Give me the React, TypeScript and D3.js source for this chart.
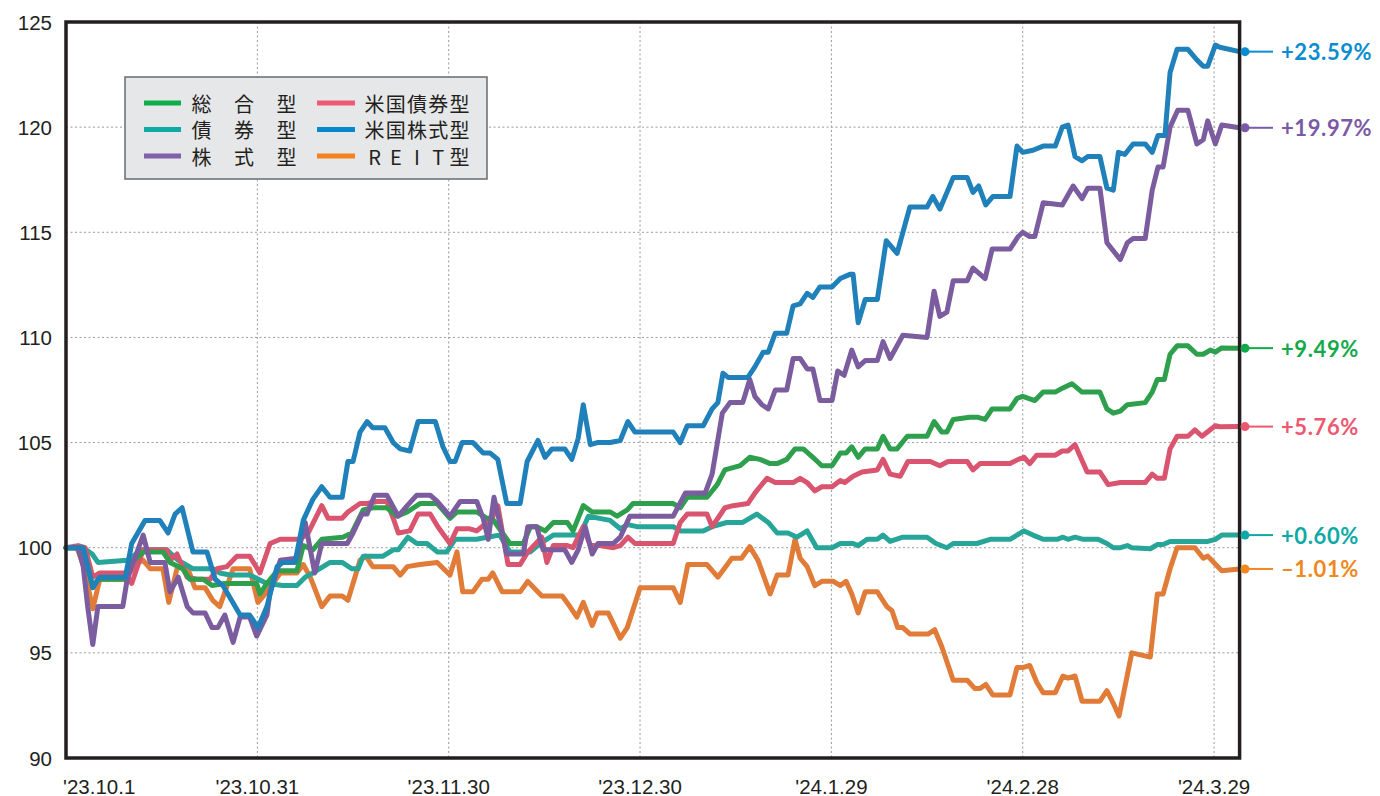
import React from "react";
import * as d3 from "d3";

// ---- data (day offset from 2023-10-01, index value) ----
const START_MS = Date.UTC(2023, 9, 1);
const END_DAY = 184;
const xTickDays = [0, 30, 60, 90, 120, 150, 180];
const xTickLabels = ["'23.10.1", "'23.10.31", "'23.11.30", "'23.12.30", "'24.1.29", "'24.2.28", "'24.3.29"];
const yTicks = [90, 95, 100, 105, 110, 115, 120, 125];

const sogo: [number, number][] = [
  [0,100],[2.7,100],[4.2,98.1],[5.0,98.5],[9.3,98.5],[10.3,99.3],[12.1,99.8],[15.2,99.8],[16.3,99.3],[18.3,99.0],[19.4,98.5],[21.5,98.5],[22.9,98.2],[24.9,98.3],[29.9,98.3],[30.4,97.8],[31.5,98.3],[33.1,98.9],[36.2,98.9],
  [37.2,100.1],[38.7,99.9],[40.1,100.4],[43.4,100.5],[44.8,100.7],[46.6,101.8],[48.1,101.9],[50.3,101.9],[51.9,101.5],[53.5,101.7],[55.5,102.1],[58.2,102.1],[60.2,101.4],[61.3,101.7],[64.4,101.7],[66.0,101.4],[66.8,101.4],
  [69.6,100.2],[71.7,100.2],[72.8,101.0],[73.8,101.0],[75.1,100.8],[76.4,101.2],[78.6,101.2],[79.5,100.8],[81.1,102.0],[82.5,101.7],[85.3,101.7],[86.4,101.5],[88.0,101.8],[88.9,102.1],[95.2,102.1],[96.3,101.9],[97.4,102.4],[100.5,102.4],
  [102.1,103.0],[103.3,103.7],[105.7,103.9],[107.2,104.3],[108.8,104.2],[110.4,104.0],[111.5,104.0],[113.0,104.2],[114.3,104.7],[115.6,104.7],[117.1,104.3],[118.5,103.9],[120.1,103.9],[121.4,104.5],[122.3,104.5],[123.2,104.8],[124.2,104.3],[125.3,104.7],[127.2,104.7],
  [128.1,105.3],[129.2,104.7],[130.3,104.7],[131.9,105.3],[135.0,105.3],[136.1,106.0],[137.3,105.5],[138.1,105.5],[139.1,106.1],[141.7,106.2],[143.0,106.2],[144.1,106.1],[145.2,106.6],[148.0,106.6],[149.1,107.1],[150.0,107.2],[151.9,107.0],[153.2,107.4],[155.1,107.4],
  [156.3,107.6],[157.7,107.8],[159.3,107.4],[162.1,107.4],[163.2,106.6],[164.2,106.4],[165.3,106.5],[166.4,106.8],[169.2,106.9],[170.3,107.4],[171.1,108.0],[172.2,108.0],[173.1,109.2],[174.2,109.6],[175.9,109.6],[177.3,109.2],[178.3,109.2],[179.4,109.4],[180.2,109.3],[181.2,109.5],[184,109.49],
];

const saiken: [number, number][] = [
  [0,100],[2.7,100],[4.1,99.7],[5.0,99.3],[9.6,99.4],[11.9,99.9],[15.8,99.9],[17.6,99.4],[19.9,99.0],[23.0,99.0],[24.1,98.8],[25.7,98.7],[28.8,98.7],[31.5,98.3],[34.0,98.2],[36.2,98.2],[37.5,98.6],[38.7,98.8],[41.4,99.3],[43.3,99.3],[44.8,99.0],[45.8,99.0],
  [46.6,99.6],[49.7,99.6],[51.3,99.9],[52.1,99.9],[53.6,100.5],[55.0,100.2],[56.6,100.2],[58.2,99.8],[59.7,99.8],[61.0,100.4],[64.4,100.4],[66.0,100.5],[68.0,100.6],[69.6,99.8],[72.8,99.8],[74.3,100.2],[76.4,100.6],[80.6,100.6],
  [81.9,101.5],[85.3,101.3],[86.9,100.9],[88.1,101.1],[89.5,101.0],[95.2,101.0],[96.3,100.8],[99.9,100.8],[101.3,101.0],[103.6,101.2],[106.1,101.2],[108.3,101.6],[110.1,101.2],[111.5,100.7],[113.2,100.7],[114.6,100.5],[116.2,100.8],[117.7,100.0],[120.1,100.0],
  [121.4,100.2],[123.4,100.2],[124.2,100.1],[125.6,100.4],[127.2,100.4],[128.1,100.6],[129.2,100.3],[131.2,100.5],[135.0,100.5],[136.4,100.2],[138.1,100.0],[139.1,100.2],[142.8,100.2],[144.9,100.4],[148.0,100.4],[149.1,100.6],[150.2,100.8],[151.6,100.6],[153.2,100.4],[155.4,100.4],
  [156.3,100.5],[157.1,100.4],[158.2,100.5],[159.5,100.4],[161.8,100.4],[163.2,100.2],[164.2,100.0],[165.3,100.0],[166.4,100.1],[167.1,100.0],[170.0,99.95],[171.1,100.15],[172.0,100.15],[173.1,100.3],[179.0,100.3],[180.2,100.4],[181.2,100.6],[184,100.6],
];

const kabushiki: [number, number][] = [
  [0,100],[1.9,100],[2.7,99.1],[3.4,97.2],[4.2,95.4],[5.0,97.2],[8.9,97.2],[9.6,98.5],[12.1,100.6],[13.2,99.3],[15.5,99.3],[16.3,97.9],[17.6,98.6],[19.0,97.2],[19.9,96.9],[21.8,96.9],[22.9,96.2],[23.8,96.2],[24.9,96.8],[26.2,95.5],[27.3,96.7],[28.8,96.7],[29.9,95.8],[31.5,96.8],[32.0,97.9],[33.6,99.4],
  [36.2,99.5],[37.5,101.2],[39.0,98.8],[40.1,100.2],[44.1,100.2],[45.0,100.7],[46.4,101.6],[47.2,101.6],[48.4,102.5],[50.3,102.5],[52.1,101.5],[53.5,102.0],[55.0,102.5],[57.1,102.5],[58.2,102.2],[60.2,101.5],[61.8,102.2],[64.4,102.2],[65.4,101.4],[66.2,100.4],[67.1,102.4],
  [69.1,99.7],[71.7,99.7],[72.4,101.0],[73.8,101.0],[74.8,99.9],[78.2,99.9],[79.3,99.3],[80.3,99.9],[81.4,101.0],[82.5,99.7],[83.4,100.2],[85.8,100.2],[86.9,100.5],[88.4,101.5],[95.2,101.5],[97.1,102.6],[100.2,102.6],[101.3,103.5],[102.9,106.4],[104.1,106.9],[106.1,106.9],
  [107.2,108.0],[108.0,107.2],[109.1,106.8],[110.1,106.6],[111.2,107.5],[113.0,107.5],[114.0,109.0],[115.1,109.0],[116.2,108.5],[117.1,108.5],[118.2,107.0],[120.1,107.0],[121.0,108.4],[122.0,108.2],[123.2,109.4],[124.2,108.6],[125.3,108.9],[127.2,108.9],[128.1,109.8],[129.2,109.0],
  [131.2,110.1],[135.0,110.0],[136.1,112.2],[137.0,111.0],[138.1,111.2],[139.1,112.7],[141.3,112.7],[142.2,113.3],[144.1,112.8],[145.2,114.2],[148.0,114.2],[149.3,114.8],[150.0,115.0],[151.1,114.8],[151.9,114.8],[153.2,116.4],[156.2,116.3],[157.9,117.2],[159.3,116.6],[160.2,117.1],[162.1,117.1],
  [163.2,114.5],[165.3,113.7],[166.4,114.5],[167.3,114.7],[169.2,114.7],[170.3,117.0],[171.2,118.1],[172.0,118.1],[173.1,120.0],[174.3,120.8],[175.9,120.8],[177.3,119.2],[178.3,119.4],[179.0,120.3],[180.2,119.2],[181.2,120.1],[184,119.97],
];

const beikokuSaiken: [number, number][] = [
  [0,100],[1.9,100.1],[3.0,100.0],[4.2,98.6],[5.3,98.8],[9.3,98.8],[10.3,98.3],[12.1,99.9],[15.8,99.9],[16.3,99.4],[17.4,99.7],[19.0,98.6],[20.5,98.5],[22.6,98.5],[23.7,99.0],[25.2,99.1],[26.8,99.6],[28.8,99.6],[30.4,98.8],[32.0,100.2],[33.6,100.4],[36.4,100.4],
  [37.8,100.6],[40.1,102.0],[41.1,101.4],[43.3,101.4],[44.2,101.7],[46.1,102.1],[47.2,102.1],[48.8,102.2],[50.3,102.2],[51.3,101.4],[52.1,100.7],[53.9,100.8],[55.2,101.6],[57.1,101.6],[58.3,101.0],[60.2,100.2],[61.3,100.9],[63.3,100.9],[64.4,100.8],[66.8,101.4],[67.7,102.0],
  [69.3,99.2],[71.2,99.2],[72.4,99.8],[74.6,100.5],[75.4,99.3],[76.4,100.1],[78.6,100.1],[79.5,100.0],[81.1,101.0],[82.2,100.1],[83.7,100.1],[85.8,100.0],[86.9,100.1],[88.1,100.5],[89.2,100.2],[95.2,100.2],[96.3,101.2],[97.4,101.6],[100.5,101.6],[101.3,101.0],[102.2,101.4],
  [103.3,101.9],[104.6,102.0],[106.9,102.1],[108.0,102.6],[109.9,103.3],[111.2,103.1],[114.0,103.1],[115.1,103.3],[116.2,103.1],[117.4,102.7],[118.5,102.9],[120.1,102.9],[121.4,103.2],[122.1,103.1],[123.4,103.4],[124.8,103.6],[127.2,103.7],[128.1,104.2],[129.2,103.5],[130.8,103.4],
  [132.0,104.1],[135.5,104.1],[137.0,103.9],[138.3,104.1],[141.3,104.1],[142.2,103.7],[143.3,104.0],[148.0,104.0],[149.3,104.2],[150.2,104.3],[151.1,104.0],[152.2,104.4],[155.1,104.4],[156.2,104.6],[157.1,104.6],[158.2,104.9],[160.1,103.6],[162.1,103.6],[163.4,103.0],[165.3,103.1],
  [169.2,103.1],[170.3,103.5],[171.1,103.3],[172.2,103.3],[173.1,104.7],[174.2,105.3],[175.9,105.3],[177.0,105.6],[178.1,105.3],[180.2,105.8],[180.9,105.75],[184,105.76],
];

const beikokuKabu: [number, number][] = [
  [0,100],[2.7,100],[4.2,98.1],[5.3,98.6],[9.3,98.6],[10.3,100.2],[12.4,101.3],[14.7,101.3],[16.0,100.7],[17.1,101.6],[18.2,101.9],[19.9,99.8],[22.1,99.8],[23.4,98.5],[24.6,98.2],[27.3,96.8],[28.8,96.8],[30.1,96.2],[31.5,97.2],[33.1,99.1],[34.0,99.3],[35.9,99.3],
  [37.2,101.3],[38.7,102.3],[40.1,102.9],[41.4,102.4],[43.3,102.4],[44.2,104.1],[45.0,104.1],[46.1,105.5],[47.2,106.0],[48.1,105.7],[50.0,105.7],[51.3,105.0],[52.4,104.7],[53.9,104.6],[55.2,106.0],[57.9,106.0],[59.1,104.8],[60.2,104.1],[61.0,104.1],[62.1,105.0],[63.8,105.0],
  [65.4,104.5],[66.5,104.5],[67.7,104.2],[69.1,102.1],[71.2,102.1],[72.3,104.1],[74.0,105.1],[75.1,104.3],[76.2,104.7],[78.2,104.7],[79.3,104.2],[80.3,105.2],[81.1,106.8],[82.2,104.9],[83.3,105.0],[85.3,105.0],[86.9,105.1],[88.1,106.0],[89.2,105.5],[95.2,105.5],[96.3,105.0],
  [97.4,105.8],[99.9,105.8],[101.3,106.6],[102.2,106.9],[103.0,108.3],[103.8,108.1],[106.9,108.1],[108.0,108.6],[109.3,109.3],[110.1,109.3],[111.2,110.2],[113.0,110.2],[114.0,111.5],[115.1,111.6],[116.2,112.1],[117.1,111.9],[118.2,112.4],[120.1,112.4],[121.4,112.8],[122.9,113.0],
  [123.4,113.0],[124.2,110.7],[125.3,111.8],[127.2,111.8],[128.6,114.6],[130.3,114.0],[132.3,116.2],[135.0,116.2],[135.9,116.7],[137.0,116.1],[139.1,117.6],[141.3,117.6],[142.2,116.9],[143.1,117.2],[144.2,116.3],[145.3,116.7],[148.0,116.7],[149.1,119.1],[150.0,118.8],[151.6,118.9],
  [153.2,119.1],[155.1,119.1],[156.2,120.0],[157.1,120.1],[158.2,118.6],[159.3,118.4],[160.2,118.6],[162.1,118.6],[163.2,117.1],[164.2,117.0],[165.0,118.8],[166.0,118.7],[167.3,119.2],[169.2,119.2],[170.3,118.8],[171.2,119.6],[172.3,119.6],[173.1,122.6],[174.2,123.7],[175.9,123.7],
  [177.3,123.2],[178.3,122.9],[179.0,122.9],[180.2,123.9],[180.9,123.8],[184,123.59],
];

const reit: [number, number][] = [
  [0,100],[1.7,100],[2.7,99.2],[4.2,97.1],[5.3,98.5],[9.3,98.5],[11.1,99.3],[12.1,99.4],[13.2,99.0],[15.2,99.0],[16.1,97.4],[17.4,99.0],[18.3,99.1],[19.1,99.0],[20.2,98.1],[21.8,98.1],[23.0,97.5],[24.1,97.2],[26.2,99.0],[28.8,99.0],[30.1,97.4],[31.5,97.9],[33.6,98.8],[36.2,98.8],
  [37.2,99.2],[38.3,98.6],[40.1,97.2],[41.4,97.7],[43.3,97.7],[44.2,97.5],[46.1,99.4],[47.0,99.6],[48.1,99.1],[51.3,99.1],[52.4,98.7],[53.5,99.1],[55.5,99.2],[58.2,99.3],[60.2,98.7],[61.3,99.8],[62.2,97.9],[63.8,97.9],[65.2,98.5],[66.2,98.5],[66.9,98.8],[68.4,97.9],[71.2,97.9],
  [72.4,98.4],[74.6,97.7],[77.8,97.7],[79.0,97.2],[80.1,96.7],[81.1,97.4],[82.5,96.3],[83.3,96.9],[85.0,96.9],[85.8,96.4],[86.9,95.7],[88.0,96.2],[90.0,98.1],[95.2,98.1],[96.3,97.4],[97.5,99.2],[100.5,99.2],[102.2,98.6],[104.4,99.5],[105.9,99.5],[107.2,100.05],[108.5,99.4],
  [110.4,97.8],[111.5,98.7],[113.2,98.7],[114.3,100.4],[115.1,99.5],[116.2,99.1],[117.4,98.2],[118.5,98.4],[120.3,98.4],[121.4,98.2],[122.3,98.4],[123.2,97.8],[124.2,96.9],[125.3,97.9],[127.2,97.9],[128.7,97.2],[129.5,97.0],[130.4,96.2],[131.2,96.2],[132.3,95.9],[135.2,95.9],
  [136.2,96.1],[137.3,95.3],[139.1,93.7],[141.3,93.7],[142.5,93.3],[143.3,93.3],[144.2,93.5],[145.3,93.0],[148.0,93.0],[149.1,94.3],[150.0,94.3],[151.1,94.4],[152.2,93.6],[153.2,93.1],[155.1,93.1],[156.3,93.9],[157.1,93.8],[158.2,93.9],[159.3,92.7],[162.1,92.7],[163.2,93.2],
  [164.2,92.6],[165.1,92.0],[167.1,95.0],[170.0,94.8],[171.1,97.8],[172.0,97.8],[173.1,99.0],[174.2,100.0],[177.0,100.0],[178.3,99.5],[179.0,99.6],[181.2,98.9],[184,98.99],
];

const seriesKeys = ["reit", "saiken", "beikokuSaiken", "sogo", "kabushiki", "beikokuKabu"];
const seriesData: Record<string, [number, number][]> = { sogo, saiken, kabushiki, beikokuSaiken, beikokuKabu, reit };
const lineColors: Record<string, string> = {
  sogo: "#2e9f4c", saiken: "#26a598", kabushiki: "#7a5c9f",
  beikokuSaiken: "#d9546e", beikokuKabu: "#1f80ba", reit: "#e17b38",
};
const swatchColors: Record<string, string> = {
  sogo: "#10ae4b", saiken: "#0eaba5", kabushiki: "#8061a8",
  beikokuSaiken: "#ee5a73", beikokuKabu: "#0589cc", reit: "#f4821f",
};
const labelColors: Record<string, string> = {
  sogo: "#13a94a", saiken: "#0ea9a6", kabushiki: "#7a5aa6",
  beikokuSaiken: "#eb5870", beikokuKabu: "#0a8dd0", reit: "#f08822",
};
const endKeys = ["beikokuKabu", "kabushiki", "sogo", "beikokuSaiken", "saiken", "reit"];
const endValues = [123.59, 119.97, 109.49, 105.76, 100.6, 98.99];
const endLabels = ["+23.59%", "+19.97%", "+9.49%", "+5.76%", "+0.60%", "–1.01%"];

// legend: characters placed in 5 equal slots
const legendLeft = [
  { key: "sogo", chars: ["総", "", "合", "", "型"] },
  { key: "saiken", chars: ["債", "", "券", "", "型"] },
  { key: "kabushiki", chars: ["株", "", "式", "", "型"] },
];
const legendRight = [
  { key: "beikokuSaiken", chars: ["米", "国", "債", "券", "型"] },
  { key: "beikokuKabu", chars: ["米", "国", "株", "式", "型"] },
  { key: "reit", chars: ["R", "E", "I", "T", "型"] },
];

const toDate = (d: number) => new Date(START_MS + d * 86400000);

export default function App() {
  const L = 66, R = 1239.6, T = 22, B = 758;
  const x = d3.scaleUtc().domain([toDate(0), toDate(END_DAY)]).range([L, R]);
  const y = d3.scaleLinear().domain([90, 125]).range([B, T]);
  const line = d3.line<[number, number]>()
    .x((p) => x(toDate(p[0])))
    .y((p) => y(p[1]))
    .curve(d3.curveLinear);

  const ink = "#231f20";
  const numFont = "'Liberation Sans', Arial, sans-serif";
  const jpFont = "'Noto Sans CJK JP', sans-serif";

  const legRows = [103, 129.5, 156];
  const slot = 21.2;

  return (
    <svg width={1380} height={796} style={{ position: "absolute", left: 0, top: 0, background: "#fff" }}>
      <rect x={0} y={0} width={1380} height={796} fill="#fff" />
      {/* grid */}
      {xTickDays.slice(1).map((d) => (
        <line key={"gx" + d} x1={x(toDate(d))} x2={x(toDate(d))} y1={T} y2={B}
          stroke="#9a9a9a" strokeWidth={1} strokeDasharray="2,2.5" />
      ))}
      {yTicks.filter((v) => v > 90 && v < 125).map((v) => (
        <line key={"gy" + v} x1={L} x2={R} y1={y(v)} y2={y(v)}
          stroke="#9a9a9a" strokeWidth={1} strokeDasharray="2,2.5" />
      ))}
      {/* y labels */}
      {yTicks.map((v) => (
        <text key={"yl" + v} x={52} y={y(v)} textAnchor="end" dominantBaseline="central"
          fontFamily={numFont} fontSize={20.5} fill={ink}>{v}</text>
      ))}
      {/* x labels */}
      {xTickDays.map((d, i) => (
        <text key={"xl" + d} x={i === 0 ? 63 : x(toDate(d))} y={786} textAnchor={i === 0 ? "start" : "middle"}
          dominantBaseline="central" fontFamily={numFont} fontSize={20.5} fill={ink}>{xTickLabels[i]}</text>
      ))}
      {/* series */}
      {seriesKeys.map((k) => (
        <path key={k} d={line(seriesData[k]) || ""} fill="none" stroke={lineColors[k]}
          strokeWidth={5} strokeLinejoin="round" strokeLinecap="round" />
      ))}
      {/* frame */}
      <rect x={L} y={T} width={R - L} height={B - T} fill="none" stroke={ink} strokeWidth={3.5} />
      {/* legend */}
      <rect x={125} y={77} width={362} height={102} fill="#e6e7e8" stroke="#6a6b6d" strokeWidth={1.5} />
      {legendLeft.map((e, i) => (
        <g key={e.key}>
          <line x1={144} x2={181} y1={legRows[i]} y2={legRows[i]} stroke={swatchColors[e.key]} strokeWidth={5} />
          {e.chars.map((c, j) => c ? (
            <text key={j} x={191 + slot * j + slot / 2} y={legRows[i]} textAnchor="middle" dominantBaseline="central"
              fontFamily={jpFont} fontSize={20} fill={ink}>{c}</text>
          ) : null)}
        </g>
      ))}
      {legendRight.map((e, i) => (
        <g key={e.key}>
          <line x1={317} x2={355} y1={legRows[i]} y2={legRows[i]} stroke={swatchColors[e.key]} strokeWidth={5} />
          {e.chars.map((c, j) => (
            <text key={j} x={364 + slot * j + slot / 2} y={legRows[i]} textAnchor="middle" dominantBaseline="central"
              fontFamily={jpFont} fontSize={20} fill={ink}>{c}</text>
          ))}
        </g>
      ))}
      {/* end labels */}
      {endKeys.map((k, i) => {
        const yy = y(endValues[i]);
        const c = labelColors[k];
        return (
          <g key={"end" + k}>
            <circle cx={1245} cy={yy} r={4.5} fill={c} />
            <line x1={1245} x2={1273} y1={yy} y2={yy} stroke={c} strokeWidth={2} />
            <text x={1281} y={yy} dominantBaseline="central" fontFamily="Lato, 'DejaVu Sans', sans-serif"
              fontWeight={700} fontSize={22} letterSpacing={0.6} fill={c}>{endLabels[i]}</text>
          </g>
        );
      })}
    </svg>
  );
}
